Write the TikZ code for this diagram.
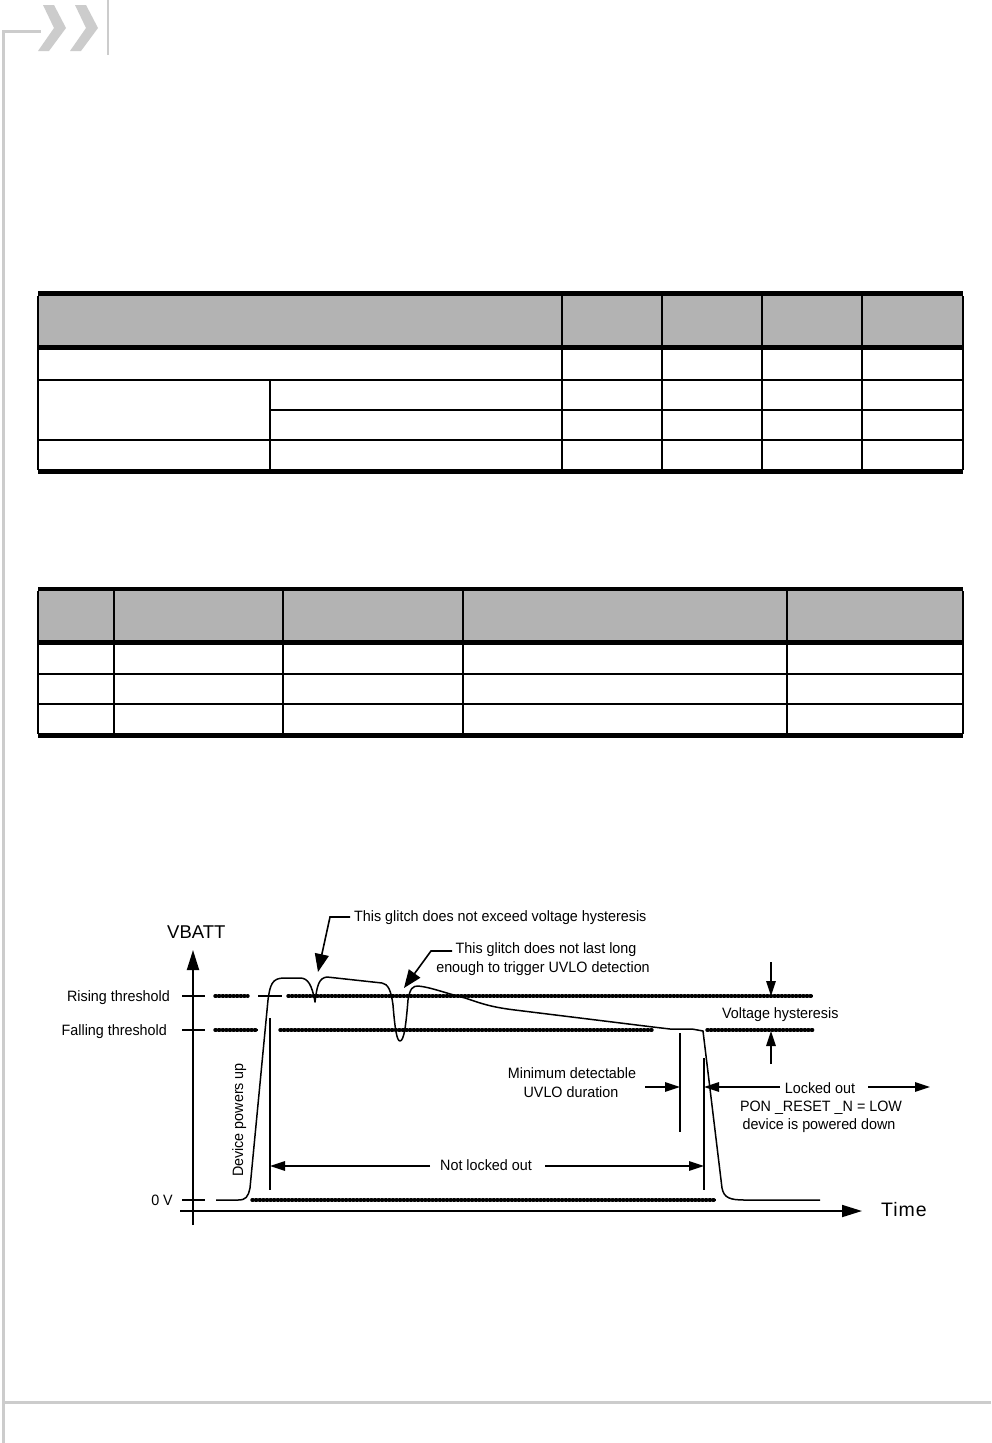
\documentclass[tikz,border=0pt]{standalone}
\usepackage{fontspec}
\setmainfont{Liberation Sans}
\newfontfamily\dgfam[FakeStretch=0.955]{Liberation Sans}
\newfontfamily\axfam{Liberation Sans}
\usetikzlibrary{arrows.meta}
\definecolor{logogray}{HTML}{CCCCCC}
\definecolor{hdrgray}{HTML}{B3B3B3}
\newcommand\dgfont{\dgfam\fontsize{15}{18}\selectfont}
\tikzset{
  lbl/.style={inner sep=0pt, font=\dgfont},
  axlbl/.style={inner sep=0pt, font=\axfam\fontsize{18.5}{20}\selectfont},
  thickrule/.style={line width=4.6pt},
  thinrule/.style={line width=1.2pt},
  midrule/.style={line width=2pt},
  axisline/.style={line width=1.8pt},
  sigline/.style={line width=1.5pt, line join=round},
  dotline/.style={line width=3.4pt, line cap=round, dash pattern=on 1.2pt off 2.4pt,
     preaction={draw, solid, line cap=butt, line width=2pt}},
  bigarr/.style={line width=1.6pt, -{Triangle[length=18pt,width=14pt]}},
  smarr/.style={line width=1.5pt, -{Triangle[length=15pt,width=9.5pt]}},
  axarr/.style={axisline, -{Triangle[length=20pt,width=12pt]}},
}
\begin{document}
\begin{tikzpicture}[x=1pt,y=-1pt]
\useasboundingbox (0,0) rectangle (991,1443);
\fill[white] (0,0) rectangle (991,1443);

% ---------- logo / page frame ----------
\draw[logogray, line width=3pt] (3.5,1443) -- (3.5,31) -- (41,31);
\fill[logogray] (43,5) -- (54,5) -- (66,28) -- (49,51) -- (38,51) -- (54,28) -- cycle;
\fill[logogray] (75,5) -- (86,5) -- (98,28) -- (81,51) -- (70,51) -- (86,28) -- cycle;
\draw[logogray, line width=1.6pt] (108,0) -- (108,55);
\draw[logogray, line width=3pt] (5,1402.5) -- (991,1402.5);

% ---------- table 1 ----------
\fill[hdrgray] (38,296) rectangle (963,345);
\draw[thickrule] (38,293.5) -- (963,293.5);
\draw[thickrule] (38,347.5) -- (963,347.5);
\draw[thickrule] (38,471.5) -- (963,471.5);
\draw[thinrule] (38,380) -- (963,380);
\draw[thinrule] (270,410) -- (963,410);
\draw[thinrule] (38,440) -- (963,440);
\foreach \x in {38,562,662,762,862,963} \draw[thinrule] (\x,296) -- (\x,470);
\draw[thinrule] (270,380) -- (270,470);

% ---------- table 2 ----------
\fill[hdrgray] (38,591) rectangle (963,640);
\draw[thickrule] (38,589) -- (963,589);
\draw[thickrule] (38,642.5) -- (963,642.5);
\draw[thickrule] (38,735.5) -- (963,735.5);
\draw[midrule] (38,674) -- (963,674);
\draw[midrule] (38,704) -- (963,704);
\foreach \x in {38,114,283,463,787,963} \draw[thinrule] (\x,591) -- (\x,734);

% ---------- diagram ----------
% axes
\coordinate (ybot) at (193,1225);
\coordinate (ytop) at (193,950);
\coordinate (xleft) at (180,1211);
\coordinate (xright) at (862,1211);
\draw[axarr] (ybot) -- (ytop);
\draw[axarr] (xleft) -- (xright);
\draw[axisline] (182,996) -- (205,996);
\draw[axisline] (182,1030) -- (205,1030);
\draw[axisline] (182,1200) -- (205,1200);

\node[axlbl, anchor=base west] (vbatt) at (167,938) {VBATT};
\node[inner sep=0pt, anchor=base west, font=\axfam\fontsize{19.5}{22}\selectfont\addfontfeature{LetterSpace=5}] (time) at (881,1216) {Time};
\node[lbl, anchor=base east] (rise) at (170,1001.5) {Rising threshold};
\node[lbl, anchor=base east] (fall) at (167,1035.5) {Falling threshold};
\node[lbl, anchor=base east] (zero) at (173,1205) {0 V};

% threshold lines
\draw[dotline] (215,996) -- (248,996);
\draw[axisline] (258,996) -- (282,996);
\draw[dotline] (288,996) -- (813,996);
\draw[dotline] (215,1030) -- (258,1030);
\draw[dotline] (280,1030) -- (653,1030);
\draw[dotline] (707,1030) -- (813,1030);
\draw[dotline] (252,1200) -- (716,1200);

% signal
\draw[sigline] (216,1200) -- (238,1200)
  .. controls (246,1200) and (248,1197) .. (250,1188)
  -- (268,1000)
  .. controls (270,985) and (272,978) .. (284,978)
  -- (300,978)
  .. controls (308,978) and (312,985) .. (315,1002)
  .. controls (317,985) and (319,978) .. (327,977)
  -- (382,983)
  .. controls (388,984) and (391,990) .. (393,1005)
  .. controls (395,1030) and (397,1041) .. (400,1041)
  .. controls (404,1041) and (406,1025) .. (408,1000)
  .. controls (410,988) and (413,986) .. (418,986)
  .. controls (430,987) and (445,993) .. (465,998)
  .. controls (480,1003) and (490,1007) .. (515,1010)
  -- (653,1027) -- (670,1029) -- (692,1029) -- (703,1031)
  -- (722,1188)
  .. controls (724,1198) and (730,1200) .. (745,1200)
  -- (820,1200);

% marker lines
\coordinate (nlL) at (270,1166);
\coordinate (nlR) at (704,1166);
\coordinate (uvloL) at (680,1087);
\coordinate (lockL) at (704,1087);
\draw[sigline] (270,1018) -- (270,1190);
\draw[sigline] (680,1033) -- (680,1132);
\draw[sigline] (704,1058) -- (704,1190);

% glitch annotations
\node[lbl, anchor=base west] (g1) at (354,921.5) {This glitch does not exceed voltage hysteresis};
\draw[bigarr] (350,917) -- (330,917) -- (318,972);
\node[lbl, anchor=base] (g2a) at (546,953) {This glitch does not last long};
\node[lbl, anchor=base] (g2b) at (543,972) {enough to trigger UVLO detection};
\draw[bigarr] (452,951) -- (431,951) -- (404,988);

% hysteresis
\node[lbl, anchor=base west] (hyst) at (722,1018) {Voltage hysteresis};
\draw[smarr] (771,962) -- (771,996);
\draw[smarr] (771,1064) -- (771,1031);

% minimum UVLO
\node[lbl, anchor=base] (uv1) at (572,1078) {Minimum detectable};
\node[lbl, anchor=base] (uv2) at (571,1097) {UVLO duration};
\draw[smarr] (645,1087) -- (uvloL);

% locked out
\node[lbl, anchor=base] (lk1) at (820,1093) {Locked out};
\node[lbl, anchor=base] (lk2) at (821,1111) {PON \_RESET \_N = LOW};
\node[lbl, anchor=base] (lk3) at (819,1129) {device is powered down};
\draw[smarr] (780,1087) -- (lockL);
\draw[smarr] (868,1087) -- (930,1087);

% not locked out
\node[lbl, anchor=base] (nl) at (486,1170) {Not locked out};
\draw[smarr] (430,1166) -- (nlL);
\draw[smarr] (545,1166) -- (nlR);

% device powers up
\node[lbl, anchor=base, rotate=90] (dpu) at (243,1120) {Device powers up};
\end{tikzpicture}
\end{document}
